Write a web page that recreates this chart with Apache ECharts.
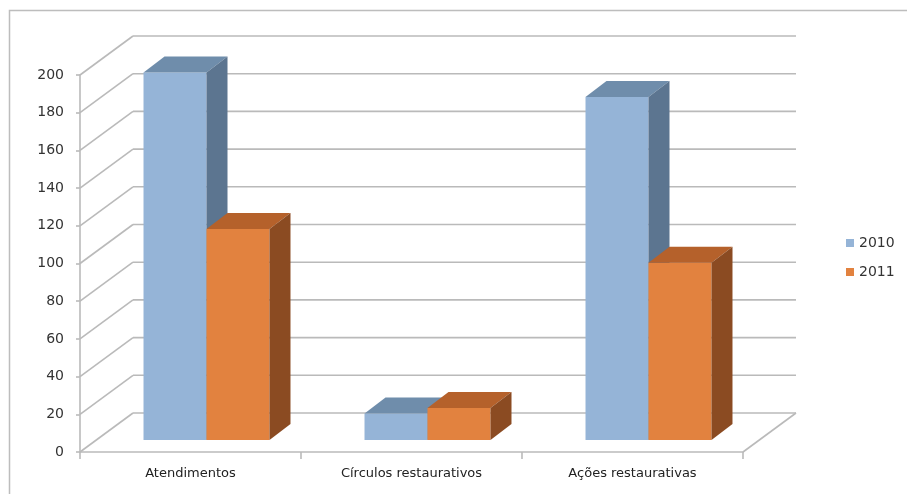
<!DOCTYPE html>
<html>
<head>
<meta charset="utf-8">
<script src="https://cdn.jsdelivr.net/npm/echarts@6/dist/echarts.min.js"></script>
<style>
  html, body { margin: 0; padding: 0; background: #fff; }
  #chart { width: 907px; height: 494px; }
</style>
</head>
<body>
<div id="chart"></div>
<script>
// dados
const categories = ['Atendimentos', 'Círculos restaurativos', 'Ações restaurativas'];
const values2010 = [195, 14, 182];
const values2011 = [112, 17, 94];
const yTicks = [0, 20, 40, 60, 80, 100, 120, 140, 160, 180, 200];

// profundidade do "3D"
const DEPTH_X = 53, DEPTH_Y = -39;   // parede lateral / chão
const BAR_X = 16, BAR_Y = -12;       // plano da frente das barras
const BAR_DX = 21, BAR_DY = -16;     // profundidade das barras
const gridColor = '#bababa';
const font = 'DejaVu Sans';

const colors = {
  '2010': { front: '#95b4d7', top: '#6f8dab', side: '#5c7590' },
  '2011': { front: '#e2823f', top: '#b5612b', side: '#8b4b22' }
};

function wallItem(params, api) {
  const v = api.value(1);
  const p = api.coord([0, v]);
  const band = api.size([1, 0])[0];
  const xl = p[0] - band / 2;
  const xr = api.coord([categories.length - 1, v])[0] + band / 2;
  const y = p[1];
  const st = { stroke: gridColor, lineWidth: 1.6 };
  const children = [
    { type: 'line', shape: { x1: xl, y1: y, x2: xl + DEPTH_X, y2: y + DEPTH_Y }, style: st },
    { type: 'line', shape: { x1: xl + DEPTH_X, y1: y + DEPTH_Y, x2: xr + DEPTH_X, y2: y + DEPTH_Y }, style: st }
  ];
  if (v === 0) {
    children.push({ type: 'line', shape: { x1: xr, y1: y, x2: xr + DEPTH_X, y2: y + DEPTH_Y }, style: st });
  }
  return { type: 'group', children: children };
}

function barRenderer(name, side) {
  const c = colors[name];
  return function (params, api) {
    const i = api.value(0);
    const v = api.value(1);
    const base = api.coord([i, 0]);
    const topP = api.coord([i, v]);
    const band = api.size([1, 0])[0];
    const w = band * 0.285;
    const x0 = (side < 0 ? base[0] - w : base[0]) + BAR_X;
    const yb = base[1] + BAR_Y;
    const yt = topP[1] + BAR_Y;
    return {
      type: 'group',
      children: [
        { type: 'rect', shape: { x: x0, y: yt, width: w, height: yb - yt }, style: { fill: c.front } },
        { type: 'polygon', shape: { points: [[x0, yt], [x0 + w, yt], [x0 + w + BAR_DX, yt + BAR_DY], [x0 + BAR_DX, yt + BAR_DY]] }, style: { fill: c.top } },
        { type: 'polygon', shape: { points: [[x0 + w, yt], [x0 + w + BAR_DX, yt + BAR_DY], [x0 + w + BAR_DX, yb + BAR_DY], [x0 + w, yb]] }, style: { fill: c.side } }
      ]
    };
  };
}

const chart = echarts.init(document.getElementById('chart'));

const option = {
  backgroundColor: '#fff',
  animation: false,
  graphic: [{
    type: 'rect',
    shape: { x: 9.5, y: 10.5, width: 1000, height: 1000 },
    style: { fill: 'none', stroke: '#bdbdbd', lineWidth: 1.5 },
    silent: true
  }],
  grid: { left: 80, right: 164, top: 75, bottom: 42 },
  legend: {
    orient: 'vertical',
    left: 841,
    top: 231,
    itemWidth: 8,
    itemHeight: 8,
    itemGap: 15,
    icon: 'rect',
    textStyle: { fontFamily: font, fontSize: 14, color: '#333' },
    data: ['2010', '2011']
  },
  xAxis: {
    type: 'category',
    data: categories,
    boundaryGap: true,
    axisLine: { lineStyle: { color: gridColor, width: 1.6 } },
    axisTick: { show: true, alignWithLabel: false, length: 7, lineStyle: { color: gridColor, width: 1.6 } },
    axisLabel: { fontFamily: font, fontSize: 13, color: '#222', margin: 15 },
    splitLine: { show: false }
  },
  yAxis: {
    type: 'value',
    min: 0,
    max: 200,
    interval: 20,
    axisLine: { show: true, lineStyle: { color: gridColor, width: 1.6 } },
    axisTick: { show: true, length: 4, lineStyle: { color: gridColor, width: 1.6 } },
    axisLabel: { fontFamily: font, fontSize: 14, color: '#333', margin: 16 },
    splitLine: { show: false }
  },
  series: [
    {
      name: 'walls',
      type: 'custom',
      silent: true,
      z: 1,
      renderItem: wallItem,
      data: yTicks.map(v => [0, v])
    },
    {
      name: '2010',
      type: 'custom',
      z: 2,
      itemStyle: { color: colors['2010'].front },
      renderItem: barRenderer('2010', -1),
      data: values2010.map((v, i) => [i, v])
    },
    {
      name: '2011',
      type: 'custom',
      z: 3,
      itemStyle: { color: colors['2011'].front },
      renderItem: barRenderer('2011', 1),
      data: values2011.map((v, i) => [i, v])
    }
  ]
};

chart.setOption(option);
</script>
</body>
</html>
